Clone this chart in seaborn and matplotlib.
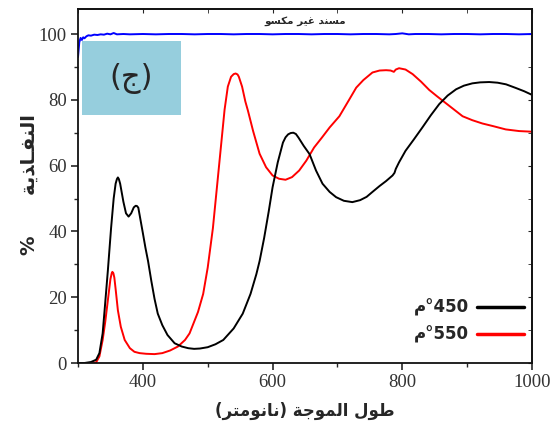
import matplotlib
matplotlib.use("Agg")
import matplotlib.pyplot as plt
import seaborn as sns
import pandas as pd
from matplotlib.patches import Rectangle
from matplotlib.lines import Line2D
from matplotlib.ticker import MultipleLocator

# ---------------- data ----------------
wl_450 = [300, 310, 320, 328, 333, 338, 341, 346, 351, 355, 358, 360, 361.5, 363, 365, 370, 374, 378,
          382, 386, 389, 391, 393, 395, 400, 404, 408, 413, 418, 423, 430, 438, 449, 460, 470, 479,
          488, 500, 512, 524, 540, 554, 566, 575, 580, 587, 594, 600, 608, 616, 620, 624, 628, 632,
          636, 640, 648, 657, 667, 677, 688, 698, 710, 723, 735, 745, 754, 765, 775, 785, 788,
          790, 795, 805, 818, 831, 844, 857, 870, 883, 895, 908, 920, 934, 947, 960, 975,
          988, 1000]
t_450 = [0, 0, 0.3, 1, 3, 9, 16, 28, 41, 50, 54.5, 55.9, 56.4, 55.9, 54.5, 49, 45.5, 44.5,
         45.5, 47.3, 47.8, 47.7, 47.2, 45, 39.5, 35, 31, 25, 19.5, 15, 11.5, 8.5, 6, 5, 4.5, 4.3,
         4.4, 4.8, 5.7, 7, 10.5, 15, 21, 27, 31, 38, 46, 53.4, 61, 67, 68.6, 69.5, 69.9, 70,
         69.6, 68.5, 66, 63.5, 58.5, 54.5, 52, 50.4, 49.3, 48.9, 49.5, 50.5, 52, 53.8, 55.3, 57, 57.8,
         59, 61, 64.5, 68, 71.6, 75.3, 78.7, 81.3, 83.2, 84.3, 85, 85.3, 85.4, 85.2, 84.7, 83.6,
         82.6, 81.5]

wl_550 = [300, 310, 320, 328, 333, 338, 342, 346, 350, 352, 353, 354.5, 356, 358, 361.5, 366, 372, 380,
          387, 395, 405, 418, 430, 442, 454, 465, 472, 478, 485, 493, 500, 508, 515, 521,
          526, 531, 536, 540, 543, 546, 548, 553, 558, 562, 570, 580, 590, 600, 610, 620, 630, 641,
          652, 664, 676, 688, 703, 718, 729, 740, 754, 765, 775, 782, 787, 790, 795, 805,
          816, 829, 841.5, 854, 867, 880, 893, 908, 923.5, 940, 959.5, 980, 1000]
t_550 = [0, 0, 0, 0.2, 2, 7, 12.5, 19, 25.5, 27.3, 27.7, 27.3, 26, 22.5, 16, 11, 7, 4.5,
         3.4, 3, 2.8, 2.7, 3, 3.8, 5, 7, 9, 12, 15.5, 21, 29, 41, 55, 67,
         77, 84, 87, 87.8, 88, 87.7, 87, 84, 79.5, 76.7, 70.5, 63.6, 59.5, 57, 56, 55.7, 56.5, 58.5,
         61.5, 65.5, 68.5, 71.6, 75, 80, 83.7, 86, 88.3, 88.9, 89, 88.9, 88.5, 89.2, 89.6, 89.2,
         87.8, 85.5, 83, 81, 79, 77, 75, 73.8, 72.8, 72, 71, 70.5, 70.3]

wl_sub = [300, 302, 304, 306, 308, 310, 313, 316, 320, 325, 330, 335, 340, 345, 350, 355,
          360, 370, 380, 400, 420, 440, 460, 480, 500, 520, 540, 560, 580, 600, 620, 640,
          660, 680, 700, 720, 740, 760, 780, 790, 800, 810, 820, 840, 860, 880, 900, 920,
          940, 960, 980, 1000]
t_sub = [93, 97.5, 98.8, 98.2, 99.0, 98.7, 99.3, 99.6, 99.5, 99.8, 99.7, 99.9, 99.8, 100.1, 99.9, 100.3,
         99.9, 100.0, 99.9, 100.0, 99.9, 100.0, 100.0, 99.9, 100.0, 100.0, 99.9, 100.0, 100.0, 99.9, 100.0, 100.0,
         99.9, 100.0, 100.0, 99.9, 100.0, 100.0, 99.9, 100.0, 100.2, 99.9, 100.0, 100.0, 99.9, 100.0, 100.0, 99.9,
         100.0, 100.0, 99.9, 100.0]

# Arabic texts (visual order, presentation forms)
label_450 = "ﻡ°450"
label_550 = "ﻡ°550"
substrate_label = "ﻮﺴﻜﻣ ﺮﻴﻏ ﺪﻨﺴﻣ"
x_label = "(ﺮﺘﻣﻮﻧﺎﻧ) ﺔﺟﻮﻤﻟﺍ ﻝﻮﻃ"
y_label = "%      ﺔﻳﺬﺎـﻔﻨﻟﺍ"
panel_label = "(ﺝ)"

x_ticks = [400, 600, 800, 1000]
y_ticks = [0, 20, 40, 60, 80, 100]

# ---------------- plot ----------------
sns.set_style("ticks")
plt.rcParams['font.family'] = ['Liberation Serif', 'DejaVu Sans']

fig = plt.figure(figsize=(5.58, 4.30), dpi=100)
ax = fig.add_axes([78/558, 1-363/430, (532-78)/558, (363-9)/430])

df_sub = pd.DataFrame({"wl": wl_sub, "T": t_sub})
df_450 = pd.DataFrame({"wl": wl_450, "T": t_450})
df_550 = pd.DataFrame({"wl": wl_550, "T": t_550})

sns.lineplot(data=df_sub, x="wl", y="T", ax=ax, color="#0000ff", lw=1.4, legend=False)
sns.lineplot(data=df_550, x="wl", y="T", ax=ax, color="#ff0000", lw=1.4, legend=False)
sns.lineplot(data=df_450, x="wl", y="T", ax=ax, color="#000000", lw=1.4, legend=False)

ax.set_xlim(300, 1000)
ax.set_ylim(0, 107.6)
ax.set_xticks(x_ticks)
ax.set_yticks(y_ticks)
ax.xaxis.set_minor_locator(MultipleLocator(100))
ax.yaxis.set_minor_locator(MultipleLocator(10))
ax.tick_params(axis='both', which='major', direction='out', length=5, width=1.2,
               labelsize=13.5, pad=3)
ax.tick_params(axis='both', which='minor', direction='out', length=3, width=1.0)
for lab in ax.get_xticklabels() + ax.get_yticklabels():
    lab.set_color('#333333')
for s in ax.spines.values():
    s.set_linewidth(1.3)
    s.set_color('#111111')

# inward ticks on top and right
top = ax.secondary_xaxis('top')
top.set_xticks(x_ticks)
top.xaxis.set_minor_locator(MultipleLocator(100))
top.tick_params(which='both', direction='in', length=3, labeltop=False)
top.spines['top'].set_linewidth(1.3)
right = ax.secondary_yaxis('right')
right.set_yticks(y_ticks)
right.yaxis.set_minor_locator(MultipleLocator(10))
right.tick_params(which='both', direction='in', length=3, labelright=False)
right.spines['right'].set_linewidth(1.3)

ax.set_xlabel(x_label, fontsize=12, fontweight='bold', family=['DejaVu Sans'], labelpad=8)
ax.set_ylabel(y_label, fontsize=14, fontweight='bold', family=['DejaVu Sans'])
ax.yaxis.set_label_coords(-0.086, 0.505)

# substrate label
ax.text(0.5, 0.965, substrate_label, transform=ax.transAxes, ha='center', va='center',
        fontsize=7.5, fontweight='bold', family=['DejaVu Sans'])

# panel box
ax.add_patch(Rectangle((0.009, 0.70), 0.218, 0.21, transform=ax.transAxes,
                       facecolor='#96cedd', edgecolor='none', zorder=3))
ax.text(0.118, 0.805, panel_label, transform=ax.transAxes, ha='center', va='center',
        fontsize=22, family=['DejaVu Sans'], zorder=4)

handles = [Line2D([], [], color='black', lw=2.5), Line2D([], [], color='red', lw=2.5)]
leg = ax.legend(handles, [label_450, label_550], loc='lower right', bbox_to_anchor=(1.015, 0.012),
                frameon=False, markerfirst=False, handlelength=2.8, labelspacing=0.55,
                handletextpad=0.5,
                prop={'family': ['DejaVu Sans'], 'weight': 'bold', 'size': 12})

fig.savefig("out.png", dpi=100)
